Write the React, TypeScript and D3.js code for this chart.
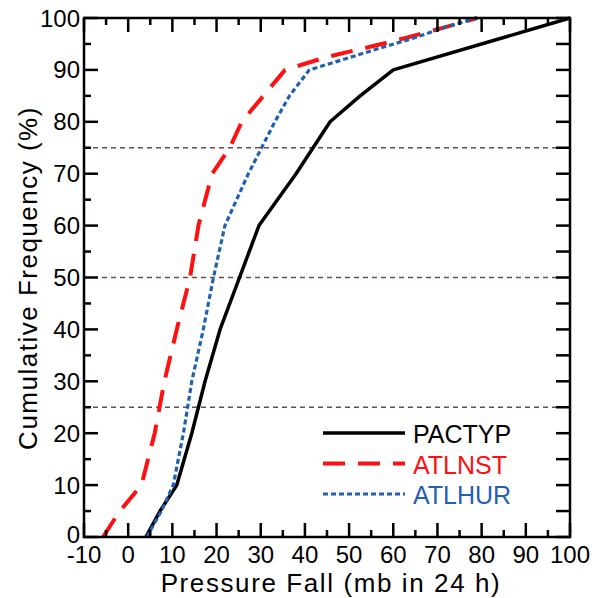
import React from "react";
import * as d3 from "d3";

// cumulative frequency (%) vs pressure fall (mb in 24 h)
const pactypFall = [4, 7.2, 11, 14.4, 17.4, 20.8, 25.2, 29.6, 38, 45.7, 52.5, 60, 100];
const pactypFreq = [0, 5, 10, 20, 30, 40, 50, 60, 70, 80, 85, 90, 100];

const atlnstFall = [-5.7, -1.9, 3, 6, 8.2, 11, 14, 15.9, 19, 23, 25.7, 30.6, 35.5, 45, 55, 63, 72, 79];
const atlnstFreq = [0, 5, 10, 20, 30, 40, 50, 60, 70, 75, 80, 85, 90, 92.5, 94.5, 96.2, 98.3, 100];

const atlhurFall = [4.2, 7.5, 10.2, 12.5, 14.4, 17, 19.3, 21.9, 27.2, 30.2, 33.2, 36.5, 41, 49.4, 57, 64.5, 72, 79];
const atlhurFreq = [0, 5, 10, 20, 30, 40, 50, 60, 70, 75, 80, 85, 90, 92.2, 94.2, 96.1, 98.3, 100];

const xTicks = [-10, 0, 10, 20, 30, 40, 50, 60, 70, 80, 90, 100];
const yTicks = [0, 10, 20, 30, 40, 50, 60, 70, 80, 90, 100];
const refLines = [25, 50, 75];

const series = [
  { name: "PACTYP", fall: pactypFall, freq: pactypFreq, color: "#000000", width: 3.5, dash: "none" },
  { name: "ATLNST", fall: atlnstFall, freq: atlnstFreq, color: "#ff1010", width: 4, dash: "22 13" },
  { name: "ATLHUR", fall: atlhurFall, freq: atlhurFreq, color: "#1f5fb4", width: 3.2, dash: "5 3" },
];

const W = 602;
const H = 598;
const font = "'Liberation Sans', Arial, sans-serif";

export default function App() {
  const x = d3.scaleLinear().domain([-10, 100]).range([84, 570]);
  const y = d3.scaleLinear().domain([0, 100]).range([537, 18]);

  const minorX = d3.range(-5, 100, 10);
  const minorY = d3.range(5, 100, 10);

  return (
    <svg width={W} height={H} style={{ position: "absolute", left: 0, top: 0, background: "#fff" }}>
      {/* reference lines */}
      {refLines.map((v) => (
        <line key={v} x1={x(-10)} x2={x(100)} y1={y(v)} y2={y(v)}
          stroke="#6e4b4b" strokeWidth={1.3} strokeDasharray="5 4" />
      ))}

      {/* series */}
      {series.map((s) => {
        const line = d3.line<number>()
          .x((_, i) => x(s.fall[i]))
          .y((_, i) => y(s.freq[i]));
        return (
          <path key={s.name} d={line(s.fall) || ""} fill="none" stroke={s.color}
            strokeWidth={s.width} strokeDasharray={s.dash} strokeLinejoin="round" />
        );
      })}

      {/* frame */}
      <rect x={x(-10)} y={y(100)} width={x(100) - x(-10)} height={y(0) - y(100)}
        fill="none" stroke="#000" strokeWidth={2.5} />

      {/* x ticks, bottom and top, inward */}
      {xTicks.map((t) => (
        <g key={"xt" + t}>
          <line x1={x(t)} x2={x(t)} y1={y(0)} y2={y(0) - 14} stroke="#000" strokeWidth={2.5} />
          <line x1={x(t)} x2={x(t)} y1={y(100)} y2={y(100) + 14} stroke="#000" strokeWidth={2.5} />
          <text x={x(t)} y={563} textAnchor="middle" fontFamily={font} fontSize={24} fill="#000">{t}</text>
        </g>
      ))}
      {minorX.map((t) => (
        <g key={"xm" + t}>
          <line x1={x(t)} x2={x(t)} y1={y(0)} y2={y(0) - 7} stroke="#000" strokeWidth={2.5} />
          <line x1={x(t)} x2={x(t)} y1={y(100)} y2={y(100) + 7} stroke="#000" strokeWidth={2.5} />
        </g>
      ))}

      {/* y ticks, left and right, inward */}
      {yTicks.map((t) => (
        <g key={"yt" + t}>
          <line x1={x(-10)} x2={x(-10) + 14} y1={y(t)} y2={y(t)} stroke="#000" strokeWidth={2.5} />
          <line x1={x(100)} x2={x(100) - 14} y1={y(t)} y2={y(t)} stroke="#000" strokeWidth={2.5} />
          <text x={80} y={y(t) + (t === 0 ? 6 : 8.5)} textAnchor="end" fontFamily={font} fontSize={24} fill="#000">{t}</text>
        </g>
      ))}
      {minorY.map((t) => (
        <g key={"ym" + t}>
          <line x1={x(-10)} x2={x(-10) + 7} y1={y(t)} y2={y(t)} stroke="#000" strokeWidth={2.5} />
          <line x1={x(100)} x2={x(100) - 14} y1={y(t)} y2={y(t)} stroke="#000" strokeWidth={2.5} />
        </g>
      ))}

      {/* axis titles */}
      <text x={331} y={592} textAnchor="middle" fontFamily={font} fontSize={26} letterSpacing={1.6} fill="#000">
        Pressure Fall (mb in 24 h)
      </text>
      <text transform="translate(37,278) rotate(-90)" textAnchor="middle" fontFamily={font} fontSize={26}
        letterSpacing={1.5} fill="#000">
        Cumulative Frequency (%)
      </text>

      {/* legend */}
      {series.map((s, i) => {
        const ly = 433 + i * 30.5;
        return (
          <g key={"lg" + s.name}>
            <line x1={323} x2={405} y1={ly} y2={ly} stroke={s.color} strokeWidth={s.width}
              strokeDasharray={s.dash} />
            <text x={413} y={ly + 10} fontFamily={font} fontSize={25} fill={s.color}>{s.name}</text>
          </g>
        );
      })}
    </svg>
  );
}
